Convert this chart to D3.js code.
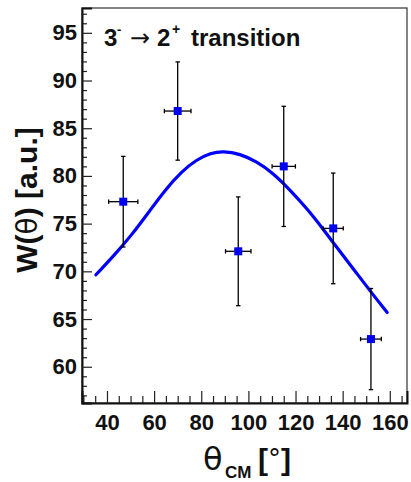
<!DOCTYPE html>
<html>
<head>
<meta charset="utf-8">
<script src="https://cdn.jsdelivr.net/npm/d3@7"></script>
<style>
  html, body { margin: 0; padding: 0; background: #fff; }
  svg { display: block; }
  text { font-family: "Liberation Sans", Arial, sans-serif; fill: #111; }
</style>
</head>
<body>
<svg id="chart" width="411" height="482"></svg>
<script>
// Measured angular distribution points
const angles   = [46.9, 70.0, 95.7, 115.0, 136.0, 152.0];
const weights  = [77.3, 86.8, 72.1, 81.0, 74.5, 62.9];
const errY     = [4.75, 5.15, 5.7, 6.3, 5.8, 5.3];
const errX     = [6.2, 5.65, 5.4, 4.95, 4.25, 4.4];

// Fitted W(theta) curve, sampled
const fitAngles  = [35.3, 43.5, 50.6, 57.7, 64.7, 71.8, 78.0, 84.0, 89.3, 96.4, 103.5, 110.5, 117.6, 124.7, 131.7, 138.8, 145.9, 152.9, 158.9];
const fitWeights = [69.64, 71.80, 73.85, 76.20, 78.55, 80.50, 81.70, 82.40, 82.60, 82.32, 81.51, 80.30, 78.55, 76.63, 74.45, 72.08, 69.82, 67.54, 65.69];

// Axis ticks
const xMajorTicks = [40, 60, 80, 100, 120, 140, 160];
const xMinorTicks = d3.range(30, 170, 5);
const yMajorTicks = [60, 65, 70, 75, 80, 85, 90, 95];
const yMinorTicks = d3.range(57, 98, 1);

const svg = d3.select("#chart");
const frame = { left: 82, right: 407, top: 8, bottom: 403 };

const x = d3.scaleLinear().domain([29.4, 167.3]).range([frame.left, frame.right]);
const y = d3.scaleLinear().domain([56.2, 97.6]).range([frame.bottom, frame.top]);

// Frame (top and right edges)
svg.append("rect")
  .attr("x", frame.left).attr("y", frame.top)
  .attr("width", frame.right - frame.left).attr("height", frame.bottom - frame.top)
  .attr("fill", "none").attr("stroke", "#333").attr("stroke-width", 1.2);

// Y axis: minor ticks, then major ticks with labels
svg.append("g").attr("transform", `translate(${frame.left},0)`)
  .call(d3.axisLeft(y).tickValues(yMinorTicks.filter(v => yMajorTicks.indexOf(v) < 0)).tickSize(-5).tickFormat(""))
  .call(g => g.select(".domain").remove())
  .call(g => g.selectAll("line").attr("stroke", "#222").attr("stroke-width", 1.2));

svg.append("g").attr("transform", `translate(${frame.left},0)`)
  .call(d3.axisLeft(y).tickValues(yMajorTicks).tickSize(-10).tickPadding(5).tickFormat(d3.format("d")))
  .call(g => g.select(".domain").attr("stroke", "#111").attr("stroke-width", 2))
  .call(g => g.selectAll("line").attr("stroke", "#222").attr("stroke-width", 1.2))
  .call(g => g.selectAll("text")
      .style("font-family", "'Liberation Sans', Arial, sans-serif")
      .style("font-weight", "bold").style("font-size", "22px").attr("fill", "#111"));

// X axis: minor ticks, then major ticks with labels
svg.append("g").attr("transform", `translate(0,${frame.bottom})`)
  .call(d3.axisBottom(x).tickValues(xMinorTicks.filter(v => xMajorTicks.indexOf(v) < 0)).tickSize(-7).tickFormat(""))
  .call(g => g.select(".domain").remove())
  .call(g => g.selectAll("line").attr("stroke", "#222").attr("stroke-width", 1.2));

svg.append("g").attr("transform", `translate(0,${frame.bottom})`)
  .call(d3.axisBottom(x).tickValues(xMajorTicks).tickSize(-12).tickPadding(11).tickFormat(d3.format("d")))
  .call(g => g.select(".domain").attr("stroke", "#111").attr("stroke-width", 2))
  .call(g => g.selectAll("line").attr("stroke", "#222").attr("stroke-width", 1.2))
  .call(g => g.selectAll("text")
      .style("font-family", "'Liberation Sans', Arial, sans-serif")
      .style("font-weight", "bold").style("font-size", "22px").attr("fill", "#111"));

// Fit curve
const line = d3.line().x(d => x(d[0])).y(d => y(d[1])).curve(d3.curveBasis);
svg.append("path")
  .datum(fitAngles.map((a, i) => [a, fitWeights[i]]))
  .attr("d", line)
  .attr("fill", "none").attr("stroke", "#0000ff").attr("stroke-width", 3.2)
  .attr("stroke-linecap", "round");

// Data points with error bars
const pts = angles.map((a, i) => ({ a, w: weights[i], ey: errY[i], ex: errX[i] }));
const cap = 2.2;
const bars = svg.append("g").attr("stroke", "#000").attr("stroke-width", 1.3);
pts.forEach(p => {
  const cx = x(p.a), cy = y(p.w);
  const y0 = y(p.w - p.ey), y1 = y(p.w + p.ey);
  const x0 = x(p.a - p.ex), x1 = x(p.a + p.ex);
  bars.append("line").attr("x1", cx).attr("x2", cx).attr("y1", y0).attr("y2", y1);
  bars.append("line").attr("x1", cx - cap).attr("x2", cx + cap).attr("y1", y0).attr("y2", y0);
  bars.append("line").attr("x1", cx - cap).attr("x2", cx + cap).attr("y1", y1).attr("y2", y1);
  bars.append("line").attr("x1", x0).attr("x2", x1).attr("y1", cy).attr("y2", cy);
  bars.append("line").attr("x1", x0).attr("x2", x0).attr("y1", cy - cap).attr("y2", cy + cap);
  bars.append("line").attr("x1", x1).attr("x2", x1).attr("y1", cy - cap).attr("y2", cy + cap);
});
svg.append("g").selectAll("rect").data(pts).join("rect")
  .attr("x", d => x(d.a) - 4).attr("y", d => y(d.w) - 4)
  .attr("width", 8).attr("height", 8)
  .attr("fill", "#0000f0");

// Panel title
const title = svg.append("text").attr("y", 45.5)
  .style("font-weight", "bold").style("font-size", "24px");
title.append("tspan").attr("x", 104).text("3");
title.append("tspan").attr("x", 117).attr("dy", -12).style("font-size", "13px").text("-");
title.append("tspan").attr("x", 130).attr("dy", 12)
  .style("font-weight", "normal").style("font-family", "'DejaVu Sans', sans-serif").style("font-size", "24px").text("\u2192");
title.append("tspan").attr("x", 157).text("2");
title.append("tspan").attr("x", 172).attr("dy", -12).style("font-size", "14px").text("+");
title.append("tspan").attr("x", 191).attr("dy", 12).text("transition");

// Y axis title
const yt = svg.append("text").attr("transform", "translate(37,200) rotate(-90)")
  .attr("text-anchor", "middle").style("font-weight", "bold").style("font-size", "30px");
yt.append("tspan").text("W(");
yt.append("tspan").style("font-weight", "normal").style("font-family", "'DejaVu Sans', sans-serif").style("font-size", "28px").text("\u03b8");
yt.append("tspan").text(") [a.u.]");

// X axis title
const xt = svg.append("text").attr("y", 470).style("font-size", "30px");
xt.append("tspan").attr("x", 203).style("font-family", "'DejaVu Sans', sans-serif").style("font-size", "32px").text("\u03b8");
xt.append("tspan").attr("x", 225).attr("dy", 8).style("font-weight", "bold").style("font-size", "17px").text("CM");
xt.append("tspan").attr("x", 258).attr("dy", -8).style("font-weight", "bold").text("[");
xt.append("tspan").style("font-family", "'DejaVu Sans', sans-serif").style("font-size", "26px").attr("dy", -2).text("\u00b0");
xt.append("tspan").attr("dy", 2).style("font-weight", "bold").text("]");
</script>
</body>
</html>
